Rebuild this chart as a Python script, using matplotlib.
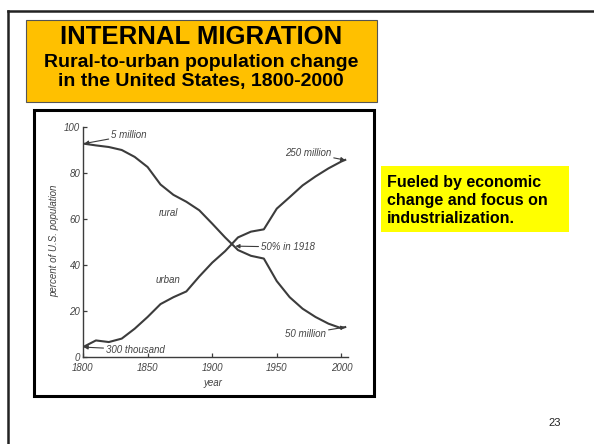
import matplotlib.pyplot as plt
from matplotlib.patches import Rectangle
from matplotlib.lines import Line2D

# values (percent of U.S. population)
years = [1800, 1810, 1820, 1830, 1840, 1850, 1860, 1870, 1880, 1890, 1900,
         1910, 1920, 1930, 1940, 1950, 1960, 1970, 1980, 1990, 2000, 2003]
urban = [4.3, 7.2, 6.5, 8.0, 12.3, 17.4, 23.0, 26.0, 28.5, 35.0, 41.0,
         46.0, 52.0, 54.5, 55.5, 64.5, 69.5, 74.6, 78.5, 82.0, 85.0, 85.7]
rural = [92.8, 92.0, 91.3, 90.0, 87.0, 82.6, 75.0, 70.5, 67.5, 63.8, 58.0,
         52.0, 46.5, 44.0, 42.8, 33.0, 26.0, 21.0, 17.4, 14.5, 12.5, 13.0]

x_ticks = [1800, 1850, 1900, 1950, 2000]
y_ticks = [0, 20, 40, 60, 80, 100]

W, H = 594, 444
fig = plt.figure(figsize=(W / 100, H / 100), dpi=100)
plt.rcParams['font.family'] = ['Liberation Sans', 'DejaVu Sans']


def fx(x):
    return x / W


def fy(y):
    return 1 - y / H


# slide outline (top and left edges)
fig.add_artist(Line2D([fx(8), fx(W)], [fy(11), fy(11)], color='#222222', lw=1.8))
fig.add_artist(Line2D([fx(8), fx(8)], [fy(11), fy(H)], color='#222222', lw=1.8))

# title box
fig.add_artist(Rectangle((fx(26), fy(102)), fx(351), 82 / H, facecolor='#FFC000',
                         edgecolor='#555555', lw=0.8))
fig.text(fx(201), fy(37), 'INTERNAL MIGRATION', ha='center', va='center',
         fontsize=18.5, fontweight='bold')
fig.text(fx(201), fy(72), 'Rural-to-urban population change\nin the United States, 1800-2000',
         ha='center', va='center', fontsize=14, fontweight='bold', linespacing=1.18)

# side note
fig.add_artist(Rectangle((fx(381), fy(232)), fx(188), 66 / H, facecolor='#FFFF00',
                         edgecolor='none'))
fig.text(fx(387), fy(200), 'Fueled by economic\nchange and focus on\nindustrialization.',
         ha='left', va='center', fontsize=11.5, fontweight='bold', linespacing=1.25)

fig.text(fx(555), fy(423), '23', ha='center', va='center', fontsize=8, color='#222222')

# frame of the scanned image
fig.add_artist(Rectangle((fx(34), fy(396)), fx(340), 286 / H, facecolor='none',
                         edgecolor='black', lw=2.2))

# the chart itself
ax = fig.add_axes([fx(83), fy(357), (205 * 1.2917) / W, 230 / H])
ax.set_facecolor('none')
ink = '#3c3c3c'
ax.plot(years, urban, color=ink, lw=1.5)
ax.plot(years, rural, color=ink, lw=1.5)
ax.set_xlim(1800, 2005)
ax.set_ylim(0, 100)
ax.set_xticks(x_ticks)
ax.set_yticks(y_ticks)
for s in ['top', 'right']:
    ax.spines[s].set_visible(False)
for s in ['left', 'bottom']:
    ax.spines[s].set_color(ink)
    ax.spines[s].set_linewidth(1.0)
ax.tick_params(direction='in', length=3, width=0.9, color=ink, labelcolor='#444444',
               labelsize=7)
ax.tick_params(axis='y', pad=2)
ax.tick_params(axis='x', pad=4)
for lab in ax.get_xticklabels() + ax.get_yticklabels():
    lab.set_fontstyle('italic')

txt = dict(fontsize=7, fontstyle='italic', color='#444444')
arr = dict(arrowstyle='-|>', color=ink, lw=0.8, mutation_scale=6, shrinkA=0, shrinkB=0)

ax.annotate('5 million', xy=(1801, 92.8), xytext=(1822, 96.4), ha='left', va='center',
            arrowprops=arr, annotation_clip=False, **txt)
ax.annotate('250 million', xy=(2003, 85.6), xytext=(1992, 88.8), ha='right', va='center',
            arrowprops=arr, annotation_clip=False, **txt)
ax.annotate('50% in 1918', xy=(1918, 48.2), xytext=(1938, 47.8), ha='left', va='center',
            arrowprops=arr, annotation_clip=False, **txt)
ax.annotate('50 million', xy=(2003, 13.0), xytext=(1988, 10.1), ha='right', va='center',
            arrowprops=arr, annotation_clip=False, **txt)
ax.annotate('300 thousand', xy=(1800.5, 4.3), xytext=(1818, 3.2), ha='left', va='center',
            arrowprops=arr, annotation_clip=False, **txt)
ax.text(1866, 62.6, 'rural', ha='center', va='center', **txt)
ax.text(1866, 33.3, 'urban', ha='center', va='center', **txt)
ax.text(1778, 50.5, 'percent of U.S. population', rotation=90, ha='center', va='center',
        clip_on=False, **txt)
ax.text(1901, -11.5, 'year', ha='center', va='center', clip_on=False, **txt)

fig.savefig('out.png', dpi=100)
